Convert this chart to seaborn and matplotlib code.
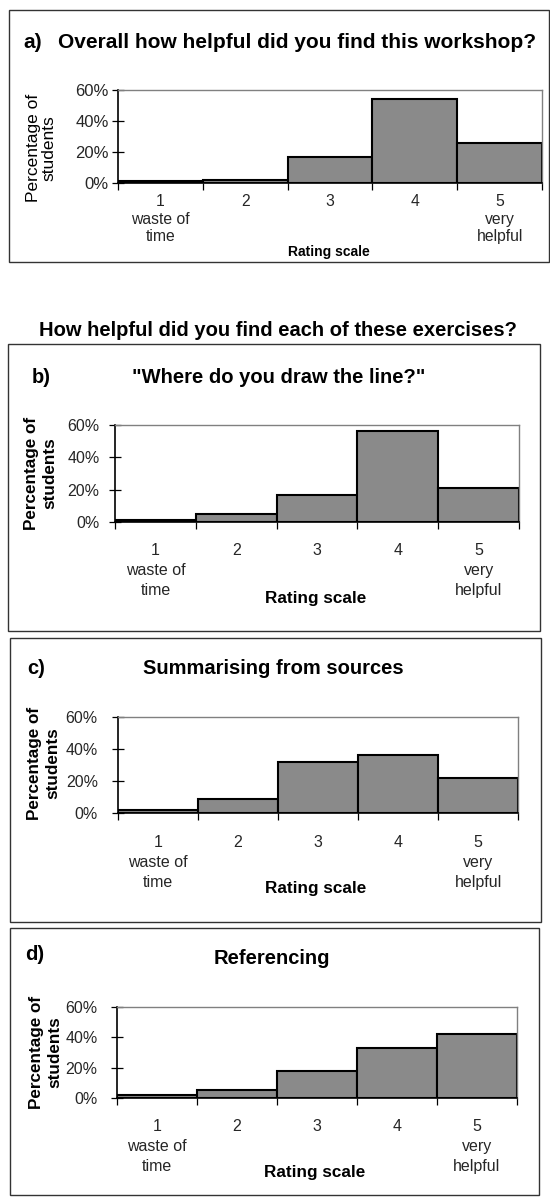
import numpy as np
import matplotlib
matplotlib.use("Agg")
import matplotlib.pyplot as plt
from matplotlib.patches import Rectangle
from matplotlib.ticker import PercentFormatter
import seaborn as sns

# ---- data ----
categories = ["1", "2", "3", "4", "5"]
tick_labels = ["1\nwaste of\ntime", "2", "3", "4", "5\nvery\nhelpful"]
overall = [1, 2, 17, 54, 26]
draw_line = [1, 5, 17, 56, 21]
summarising = [2, 9, 32, 36, 22]
referencing = [2, 5, 18, 33, 42]
y_ticks = [0, 20, 40, 60]

sns.set_theme(style="white")
plt.rcParams['font.family'] = ['Liberation Sans', 'DejaVu Sans']

W, H = 550, 1198
fig = plt.figure(figsize=(W / 100, H / 100), dpi=100)
fig.patch.set_facecolor("white")


def fxy(x, y):
    return x / W, 1 - y / H


def box(x0, y0, x1, y1, color="#333333"):
    fig.add_artist(Rectangle((x0 / W, 1 - y1 / H), (x1 - x0) / W, (y1 - y0) / H,
                             fill=False, edgecolor=color, lw=1.0,
                             transform=fig.transFigure))


def txt(x, y, s, size, bold=True, ha="center", rot=0, ls=1.2):
    fig.text(*fxy(x, y), s, ha=ha, va="center", fontsize=size,
             fontweight="bold" if bold else "normal", rotation=rot,
             linespacing=ls, color="black")


def panel(values, l, r, t, b, xsize, ysize, pad, ls, ypad):
    ax = fig.add_axes([l / W, 1 - b / H, (r - l) / W, (b - t) / H])
    sns.barplot(x=categories, y=values, ax=ax, color="#8a8a8a", saturation=1,
                edgecolor="black", linewidth=1.5, width=1.0)
    ax.set_xlim(-0.5, 4.5)
    ax.set_ylim(0, 60)
    ax.set_xticks(range(5))
    ax.set_xticklabels(tick_labels, fontsize=xsize, linespacing=ls)
    ax.set_xticks(np.arange(-0.5, 5, 1), minor=True)
    ax.tick_params(axis="x", which="major", length=0, pad=pad, bottom=True)
    ax.tick_params(axis="x", which="minor", length=5, width=0.9,
                   direction="out", color="black", bottom=True)
    ax.set_yticks(y_ticks)
    ax.yaxis.set_major_formatter(PercentFormatter(xmax=100, decimals=0))
    ax.tick_params(axis="y", which="major", length=9, width=0.9,
                   direction="inout", color="black", left=True,
                   labelsize=ysize, pad=ypad)
    ax.set_xlabel("")
    ax.set_ylabel("")
    for s in ["top", "right"]:
        ax.spines[s].set_color("#808080")
        ax.spines[s].set_linewidth(1.0)
    for s in ["left", "bottom"]:
        ax.spines[s].set_color("black")
        ax.spines[s].set_linewidth(1.2)
    ax.set_facecolor("white")
    return ax


# ---- panel a ----
box(9, 10, 549, 262)
txt(23, 43, "a)", 15, ha="left")
txt(58, 43, "Overall how helpful did you find this workshop?", 15, ha="left")
panel(overall, 118, 542, 90, 183, 11.3, 12, 8, 1.2, 2)
txt(41, 148, "Percentage of\nstudents", 12.5, bold=False, rot=90, ls=1.0)
txt(329, 252, "Rating scale", 10)

# ---- heading ----
txt(278, 330, "How helpful did you find each of these exercises?", 14.5)

# ---- panel b ----
box(8, 344, 540, 631)
txt(32, 377, "b)", 14.5, ha="left")
txt(279, 377, "\"Where do you draw the line?\"", 14.5)
panel(draw_line, 115, 519, 425, 522, 11.5, 11.5, 15, 1.42, 6.5)
txt(41, 473, "Percentage of\nstudents", 12.3, rot=90, ls=1.3)
txt(316, 598, "Rating scale", 12.3)

# ---- panel c ----
box(10, 638, 541, 922)
txt(27, 668, "c)", 14.5, ha="left")
txt(273, 669, "Summarising from sources", 14.5)
panel(summarising, 118, 518, 717, 813, 11.5, 11.5, 16, 1.42, 10)
txt(44, 763, "Percentage of\nstudents", 12.3, rot=90, ls=1.3)
txt(316, 889, "Rating scale", 12.3)

# ---- panel d ----
box(10, 928, 539, 1195)
txt(25, 955, "d)", 14.5, ha="left")
txt(272, 958, "Referencing", 14.5)
panel(referencing, 117, 517, 1007, 1098, 11.5, 11.5, 15, 1.42, 9.5)
txt(46, 1052, "Percentage of\nstudents", 12.3, rot=90, ls=1.3)
txt(315, 1173, "Rating scale", 12.3)

fig.savefig("out.png", dpi=100, facecolor="white")
